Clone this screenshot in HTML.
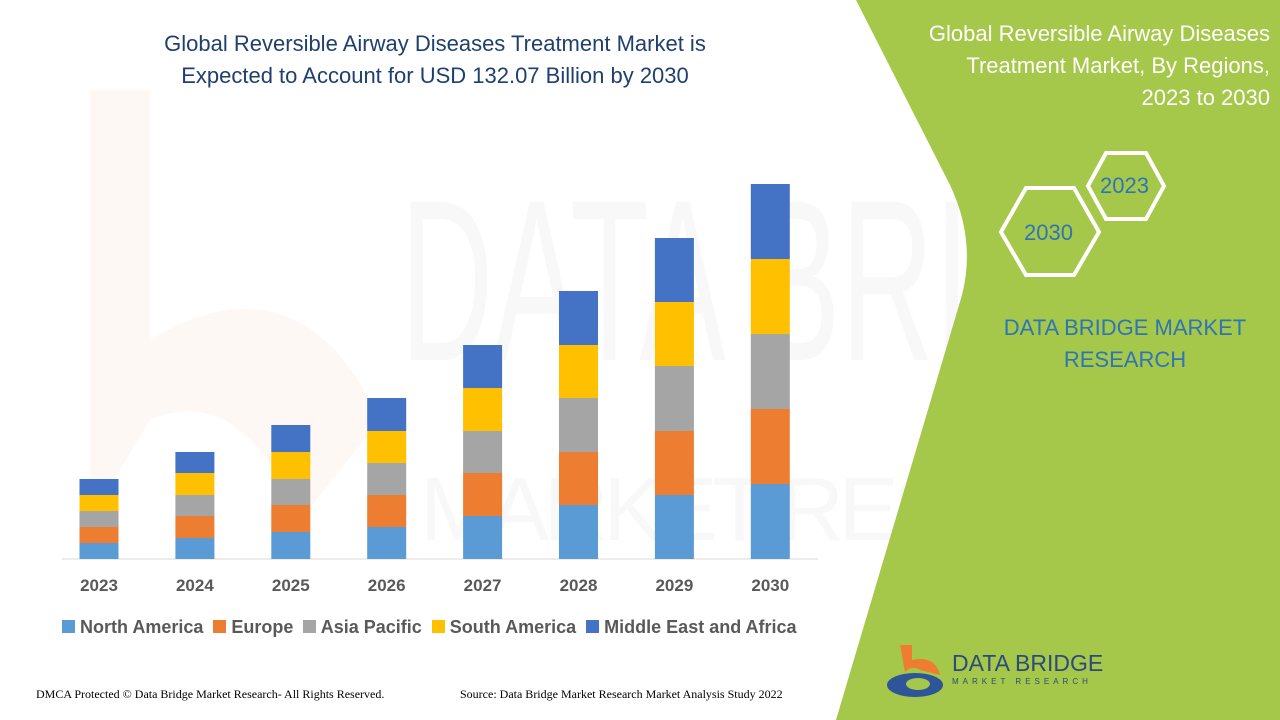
<!DOCTYPE html>
<html><head><meta charset="utf-8"><style>
body{margin:0;width:1280px;height:720px;overflow:hidden;background:#fff;font-family:"Liberation Sans",sans-serif;position:relative}
.t{position:absolute;white-space:nowrap}
</style></head><body>
<svg width="1280" height="720" style="position:absolute;left:0;top:0">
<text x="400" y="360" font-size="230" fill="#f8f8f8" font-family="Liberation Sans" textLength="850" lengthAdjust="spacingAndGlyphs">DATA BRIDGE</text>
<text x="420" y="540" font-size="90" fill="#f8f8f8" font-family="Liberation Sans" textLength="820" lengthAdjust="spacing">MARKET RESEARCH</text>
<path d="M90,90 L150,90 L150,340 Q300,250 380,420 L300,520 Q240,380 150,420 L90,520 Z" fill="#fef8f4"/>
<path d="M856,0 L950,185 Q976,240 962,295 L836,720 L1280,720 L1280,0 Z" fill="#a5c84a"/>
<line x1="62" y1="559" x2="818" y2="559" stroke="#d9d9d9" stroke-width="1"/>
<g id="bars"></g>
<polygon points="1088,186 1106,153 1146,153 1164,186 1146,219 1106,219" fill="none" stroke="#fff" stroke-width="4"/>
<polygon points="1001,232 1026,188 1074,188 1099,232 1074,275 1026,275" fill="none" stroke="#fff" stroke-width="4"/>
<path d="M900,645 L912,645 L912,660 Q935,655 940,675 L920,670 Q912,665 905,672 Z" fill="#ee7d31"/>
<ellipse cx="915" cy="685" rx="28" ry="12" fill="#2e5597"/>
<ellipse cx="918" cy="684" rx="12" ry="6" fill="#a5c84a"/>
</svg>
<div class="t" style="left:0;width:870px;text-align:center;top:28px;font-size:22px;line-height:32px;color:#1f3f6e">Global Reversible Airway Diseases Treatment Market is<br>Expected to Account for USD 132.07 Billion by 2030</div>
<div class="t" style="right:10px;top:18px;text-align:right;font-size:22px;line-height:32px;color:#fff">Global Reversible Airway Diseases<br>Treatment Market, By Regions,<br>2023 to 2030</div>
<div class="t" style="left:1100px;top:173px;font-size:22px;color:#2e75b6">2023</div>
<div class="t" style="left:1024px;top:220px;font-size:22px;color:#2e75b6">2030</div>
<div class="t" style="left:985px;width:280px;text-align:center;top:312px;font-size:22px;line-height:32px;color:#2e75b6">DATA BRIDGE MARKET<br>RESEARCH</div>
<div class="t" style="left:952px;top:650px;font-size:23px;color:#2e4a7a">DATA BRIDGE</div>
<div class="t" style="left:952px;top:677px;font-size:8px;letter-spacing:4px;color:#2e4a7a">MARKET RESEARCH</div>
<div id="years"></div>
<div class="t" style="left:62px;top:617px;font-size:18px;color:#595959;font-weight:bold">
<span style="display:inline-block;width:13px;height:13px;background:#5b9bd5"></span> North America&nbsp;
<span style="display:inline-block;width:13px;height:13px;background:#ed7d31"></span> Europe&nbsp;
<span style="display:inline-block;width:13px;height:13px;background:#a5a5a5"></span> Asia Pacific&nbsp;
<span style="display:inline-block;width:13px;height:13px;background:#ffc000"></span> South America&nbsp;
<span style="display:inline-block;width:13px;height:13px;background:#4472c4"></span> Middle East and Africa</div>
<div class="t" style="left:36px;top:687px;font-size:12px;font-family:'Liberation Serif',serif;color:#000">DMCA Protected © Data Bridge Market Research- All Rights Reserved.</div>
<div class="t" style="left:460px;top:687px;font-size:12px;font-family:'Liberation Serif',serif;color:#000">Source: Data Bridge Market Research Market Analysis Study 2022</div>
<script>
var d=[[479,495,511,527,543],[452,473,495,516,538],[425,452,479,505,532],[398,431,463,495,527],[345,388,431,473,516],[291,345,398,452,505],[238,302,366,431,495],[184,259,334,409,484]];
var c=["#4472c4","#ffc000","#a5a5a5","#ed7d31","#5b9bd5"];
var g=document.getElementById("bars"),s="",y="";
for(var i=0;i<8;i++){var cx=99+i*95.9;var b=d[i].concat([559]);
for(var j=0;j<5;j++){s+='<rect x="'+(cx-19.5)+'" y="'+b[j]+'" width="39" height="'+(b[j+1]-b[j])+'" fill="'+c[j]+'"/>';}
y+='<div class="t" style="left:'+(cx-30)+'px;width:60px;text-align:center;top:576px;font-size:17px;font-weight:bold;color:#595959">'+(2023+i)+'</div>';}
g.innerHTML=s;document.getElementById("years").innerHTML=y;
</script>
</body></html>
